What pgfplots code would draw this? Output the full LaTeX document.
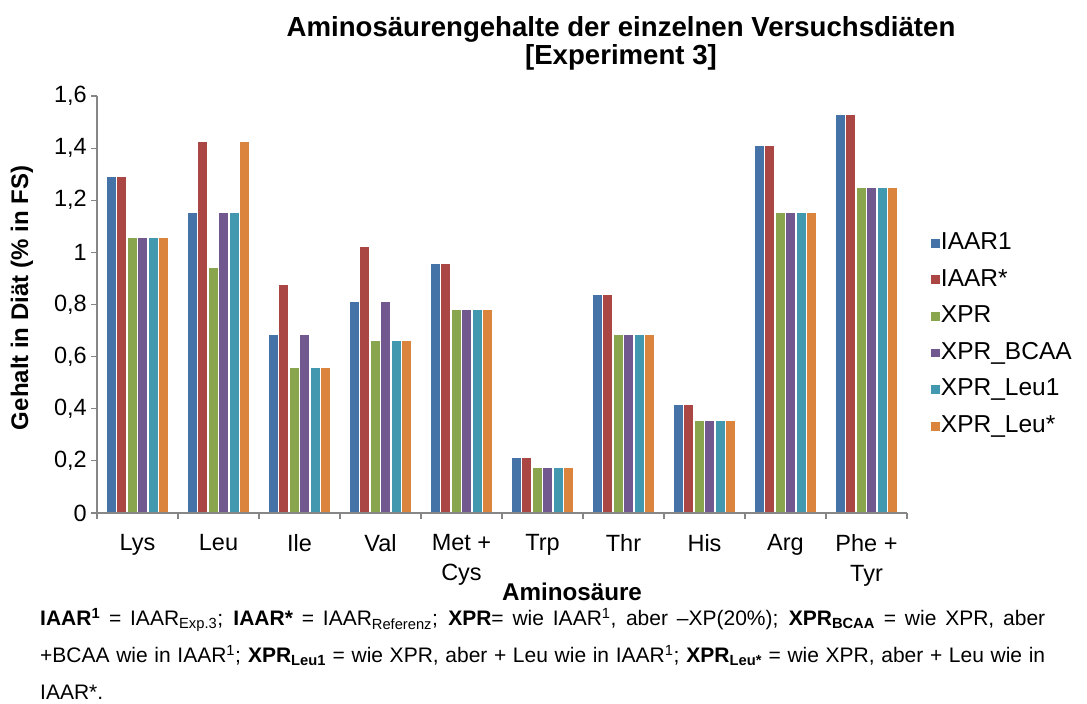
\documentclass[border=0pt]{standalone}
\usepackage{fontspec}
\setmainfont{Liberation Sans}
\usepackage{pgfplots}
\pgfplotsset{compat=1.18}
\definecolor{c1}{HTML}{4572A7}
\definecolor{c2}{HTML}{AA4643}
\definecolor{c3}{HTML}{89A54E}
\definecolor{c4}{HTML}{71588F}
\definecolor{c5}{HTML}{4198AF}
\definecolor{c6}{HTML}{DB843D}
\definecolor{axgray}{HTML}{868686}
\begin{document}
\begin{tikzpicture}
\useasboundingbox (0pt,0pt) rectangle (1087pt,-704pt);
\begin{axis}[
  at={(97pt,-513pt)}, anchor=south west, scale only axis,
  width=810pt, height=417pt,
  ybar=0pt, bar width=10.5pt,
  xmin=-0.5, xmax=9.5, ymin=0, ymax=1.6,
  axis lines*=left, axis on top,
  axis line style={axgray, line width=1.2pt},
  tick align=outside, major tick length=6pt,
  tick style={axgray, line width=1.2pt},
  xtick={-0.5,0.5,...,9.5}, xticklabels={},
  extra x ticks={0,1,2,3,4,5,6,7,8,9},
  extra x tick labels={Lys,Leu,Ile,Val,{Met +\\Cys},Trp,Thr,His,Arg,{Phe +\\Tyr}},
  extra x tick style={major tick length=0pt},
  x tick label style={font=\fontsize{23.5}{30}\selectfont, align=center, anchor=north, inner sep=0pt, yshift=-21pt},
  ytick={0,0.2,0.4,0.6,0.8,1,1.2,1.4,1.6},
  y tick label style={font=\fontsize{23.5}{26}\selectfont, inner sep=0pt, xshift=-4pt},
  /pgf/number format/use comma, /pgf/number format/fixed, /pgf/number format/precision=1,
  /pgf/number format/assume math mode=true,
  legend style={at={(1.028,0.674)}, anchor=north west, draw=none, fill=none,
    inner sep=0pt, outer sep=0pt,
    font=\fontsize{24.5}{26}\selectfont, row sep=14.1pt,
    nodes={inner sep=0pt, text height=17.5pt, text depth=5pt}},
  legend cell align=left,
  legend image code/.code={\fill[#1] (0pt,-5pt) rectangle (10pt,5pt);},
  /tikz/every even column/.append style={column sep=7pt},
  every axis plot/.append style={draw=white, line width=1.3pt},
  clip=false,
]
\addplot[fill=c1] coordinates {(0,1.293) (1,1.152) (2,0.684) (3,0.812) (4,0.957) (5,0.214) (6,0.839) (7,0.417) (8,1.412) (9,1.529)};
\addplot[fill=c2] coordinates {(0,1.293) (1,1.425) (2,0.877) (3,1.022) (4,0.957) (5,0.214) (6,0.839) (7,0.417) (8,1.412) (9,1.529)};
\addplot[fill=c3] coordinates {(0,1.058) (1,0.941) (2,0.559) (3,0.664) (4,0.780) (5,0.174) (6,0.684) (7,0.354) (8,1.153) (9,1.249)};
\addplot[fill=c4] coordinates {(0,1.058) (1,1.152) (2,0.684) (3,0.812) (4,0.780) (5,0.174) (6,0.684) (7,0.354) (8,1.153) (9,1.249)};
\addplot[fill=c5] coordinates {(0,1.058) (1,1.152) (2,0.559) (3,0.664) (4,0.780) (5,0.174) (6,0.684) (7,0.354) (8,1.153) (9,1.249)};
\addplot[fill=c6] coordinates {(0,1.058) (1,1.425) (2,0.559) (3,0.664) (4,0.780) (5,0.174) (6,0.684) (7,0.354) (8,1.153) (9,1.249)};
\legend{IAAR1,IAAR*,XPR,XPR\_BCAA,XPR\_Leu1,XPR\_Leu*}
\end{axis}
\node[font=\fontsize{27.6}{28}\selectfont\bfseries, align=center, anchor=center] at (621pt,-43pt) {Aminosäurengehalte der einzelnen Versuchsdiäten\\{}[Experiment 3]};
\node[font=\fontsize{24}{28}\selectfont\bfseries, rotate=90, anchor=center] at (22pt,-298pt) {Gehalt in Diät (\% in FS)};
\node[font=\fontsize{24.2}{26}\selectfont\bfseries, anchor=center] at (572pt,-592pt) {Aminosäure};
\node[anchor=north west, inner sep=0pt, text width=1005pt, align=justify, font=\fontsize{21}{37}\selectfont] at (40pt,-608pt) {\textbf{IAAR\textsuperscript{1}} = IAAR\textsubscript{Exp.3}; \textbf{IAAR*} = IAAR\textsubscript{Referenz}; \textbf{XPR}= wie IAAR\textsuperscript{1}, aber –XP(20\%); \textbf{XPR\textsubscript{BCAA}} = wie XPR, aber\linebreak +BCAA wie in IAAR\textsuperscript{1}; \textbf{XPR\textsubscript{Leu1}} = wie XPR, aber + Leu wie in IAAR\textsuperscript{1}; \textbf{XPR\textsubscript{Leu*}} = wie XPR, aber + Leu wie in\linebreak IAAR*.};
\end{tikzpicture}
\end{document}
